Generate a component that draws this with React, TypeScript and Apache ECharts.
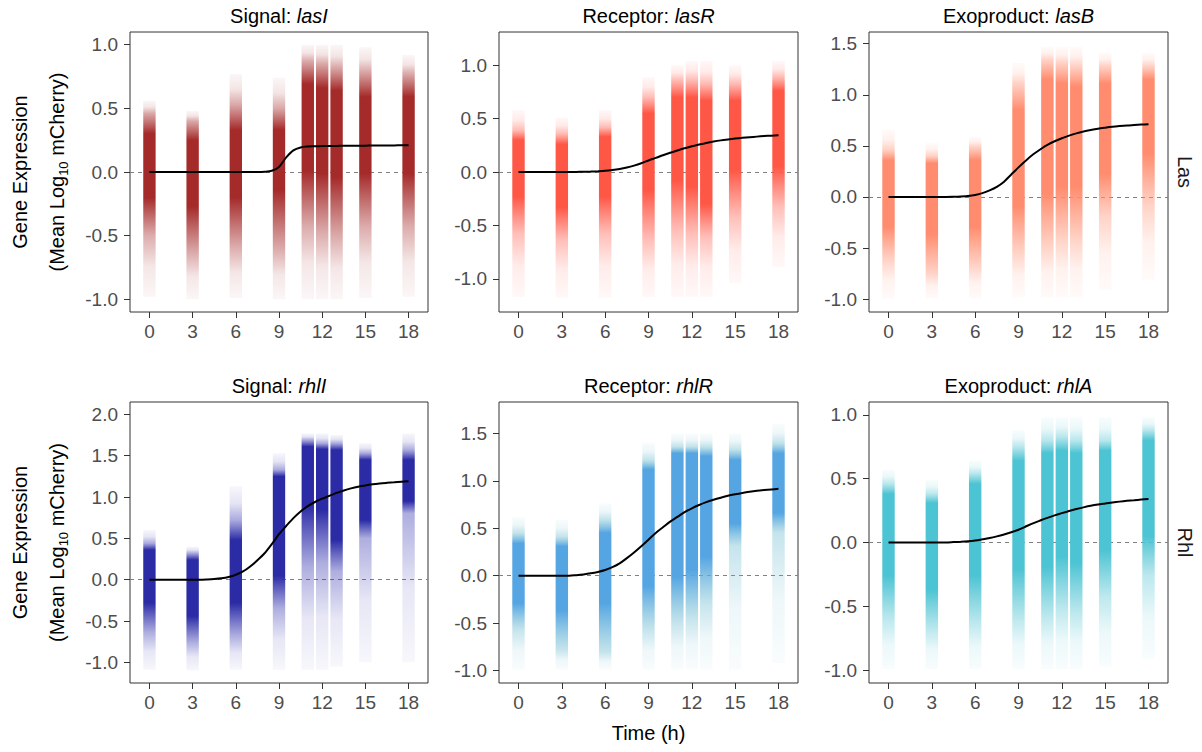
import React, { useEffect, useRef } from "react";
import * as echarts from "echarts";

// ---------- data ----------
const TIMES = [0, 3, 6, 9, 11, 12, 13, 15, 18];
const X_TICKS = [0, 3, 6, 9, 12, 15, 18];
// fitted curves sampled every half hour from 0 to 18 h
const CURVE_T = [
  0, 0.5, 1, 1.5, 2, 2.5, 3, 3.5, 4, 4.5, 5, 5.5, 6, 6.5, 7, 7.5, 8, 8.5, 9, 9.5, 10, 10.5, 11, 11.5, 12, 12.5, 13,
  13.5, 14, 14.5, 15, 15.5, 16, 16.5, 17, 17.5, 18,
];

// per time point: [min, lowerTail, coreLow, coreHigh, upperTail, max]
const LASI_STRIPS = [
  [-0.98, -0.5, -0.2, 0.3, 0.46, 0.56],
  [-1.0, -0.64, -0.27, 0.25, 0.4, 0.48],
  [-0.99, -0.59, -0.2, 0.33, 0.53, 0.77],
  [-1.0, -0.61, -0.14, 0.33, 0.5, 0.74],
  [-1.0, -0.43, 0.01, 0.69, 0.87, 1.0],
  [-1.0, -0.48, -0.01, 0.66, 0.85, 1.0],
  [-1.0, -0.51, -0.04, 0.64, 0.82, 1.0],
  [-0.99, -0.43, -0.01, 0.59, 0.79, 0.98],
  [-0.98, -0.43, -0.01, 0.59, 0.77, 0.92],
];
const LASR_STRIPS = [
  [-1.17, -0.58, -0.23, 0.3, 0.39, 0.58],
  [-1.18, -0.64, -0.33, 0.26, 0.36, 0.51],
  [-1.18, -0.58, -0.23, 0.33, 0.42, 0.58],
  [-1.17, -0.64, -0.17, 0.55, 0.7, 0.89],
  [-1.17, -0.55, -0.08, 0.7, 0.86, 1.0],
  [-1.17, -0.58, -0.14, 0.7, 0.86, 1.04],
  [-1.17, -0.61, -0.3, 0.67, 0.83, 1.04],
  [-1.04, -0.42, 0.02, 0.67, 0.83, 1.0],
  [-0.89, -0.33, 0.05, 0.76, 0.89, 1.04],
];
const LASB_STRIPS = [
  [-0.99, -0.62, -0.29, 0.36, 0.46, 0.66],
  [-0.99, -0.75, -0.36, 0.33, 0.4, 0.53],
  [-0.99, -0.68, -0.29, 0.36, 0.49, 0.59],
  [-0.98, -0.55, -0.09, 0.85, 1.11, 1.31],
  [-0.98, -0.49, 0.04, 1.15, 1.34, 1.47],
  [-0.98, -0.42, 0.1, 1.11, 1.31, 1.47],
  [-0.98, -0.42, 0.1, 1.08, 1.28, 1.47],
  [-0.91, -0.19, 0.23, 1.11, 1.28, 1.41],
  [-0.81, -0.09, 0.43, 1.15, 1.28, 1.41],
];
const RHLI_STRIPS = [
  [-1.09, -0.64, -0.28, 0.36, 0.44, 0.6],
  [-1.1, -0.76, -0.44, 0.24, 0.32, 0.4],
  [-1.09, -0.68, -0.28, 0.48, 0.72, 1.13],
  [-1.09, -0.35, 0.05, 1.25, 1.33, 1.53],
  [-1.09, 0.15, 0.9, 1.61, 1.69, 1.77],
  [-1.09, 0.2, 0.85, 1.58, 1.65, 1.77],
  [-1.05, 0.1, 0.48, 1.57, 1.65, 1.75],
  [-1.0, 0.5, 0.72, 1.45, 1.53, 1.65],
  [-1.0, 0.8, 0.95, 1.45, 1.57, 1.77],
];
const RHLR_STRIPS = [
  [-0.99, -0.57, -0.29, 0.34, 0.45, 0.62],
  [-0.99, -0.78, -0.36, 0.31, 0.41, 0.59],
  [-0.99, -0.81, -0.29, 0.45, 0.59, 0.76],
  [-0.99, -0.57, -0.11, 1.12, 1.22, 1.4],
  [-0.99, -0.5, -0.01, 1.29, 1.36, 1.5],
  [-0.99, -0.45, 0.06, 1.29, 1.36, 1.5],
  [-0.99, -0.29, 0.2, 1.26, 1.36, 1.5],
  [-0.99, 0.31, 0.55, 1.22, 1.33, 1.5],
  [-0.92, 0.45, 0.66, 1.29, 1.4, 1.6],
];
const RHLA_STRIPS = [
  [-0.99, -0.6, -0.26, 0.38, 0.46, 0.57],
  [-0.99, -0.68, -0.37, 0.31, 0.38, 0.49],
  [-0.99, -0.63, -0.26, 0.46, 0.54, 0.64],
  [-0.99, -0.6, -0.21, 0.64, 0.75, 0.88],
  [-0.99, -0.58, -0.19, 0.7, 0.8, 0.98],
  [-0.99, -0.52, -0.11, 0.72, 0.83, 0.98],
  [-0.99, -0.55, -0.16, 0.7, 0.8, 0.98],
  [-0.97, -0.42, -0.06, 0.72, 0.8, 0.98],
  [-0.91, -0.26, 0.05, 0.8, 0.88, 0.98],
];

// fitted curves at CURVE_T (37 values each)
const LASI_CURVE = [
  0, 0, 0, 0, 0, 0, 0, 0, 0, 0, 0, 0, 0, 0, 0, 0, 0.002, 0.01, 0.04, 0.115, 0.17, 0.193, 0.2, 0.202, 0.204, 0.205,
  0.205, 0.206, 0.206, 0.207, 0.207, 0.208, 0.208, 0.209, 0.209, 0.21, 0.21,
];
const LASR_CURVE = [
  0, 0, 0, 0, 0, 0, 0, 0, 0.001, 0.002, 0.004, 0.007, 0.011, 0.018, 0.028, 0.042, 0.06, 0.082, 0.108, 0.132, 0.157,
  0.18, 0.201, 0.222, 0.241, 0.257, 0.272, 0.285, 0.296, 0.305, 0.313, 0.32, 0.326, 0.331, 0.336, 0.34, 0.343,
];
const LASB_CURVE = [
  0, 0, 0, 0, 0, 0, 0, 0, 0, 0.002, 0.005, 0.01, 0.02, 0.038, 0.065, 0.1, 0.15, 0.22, 0.29, 0.355, 0.415, 0.465, 0.51,
  0.545, 0.575, 0.6, 0.622, 0.64, 0.655, 0.668, 0.678, 0.687, 0.694, 0.7, 0.704, 0.708, 0.712,
];
const RHLI_CURVE = [
  0, 0, 0, 0, 0, 0, 0, 0, 0.003, 0.008, 0.017, 0.033, 0.06, 0.1, 0.16, 0.235, 0.32, 0.43, 0.55, 0.65, 0.745, 0.825,
  0.89, 0.94, 0.98, 1.015, 1.05, 1.08, 1.105, 1.125, 1.14, 1.155, 1.165, 1.172, 1.178, 1.184, 1.19,
];
const RHLR_CURVE = [
  0, 0, 0, 0, 0, 0, 0, 0, 0.006, 0.014, 0.025, 0.04, 0.06, 0.09, 0.13, 0.185, 0.245, 0.31, 0.38, 0.45, 0.51, 0.57,
  0.62, 0.67, 0.71, 0.745, 0.775, 0.8, 0.822, 0.842, 0.858, 0.872, 0.884, 0.894, 0.902, 0.909, 0.915,
];
const RHLA_CURVE = [
  0, 0, 0, 0, 0, 0, 0, 0, 0, 0.003, 0.006, 0.01, 0.016, 0.025, 0.035, 0.048, 0.063, 0.08, 0.1, 0.125, 0.15, 0.172,
  0.193, 0.212, 0.23, 0.247, 0.262, 0.275, 0.287, 0.297, 0.305, 0.313, 0.32, 0.326, 0.331, 0.336, 0.34,
];

const Y_TICKS_LAS_I = [-1, -0.5, 0, 0.5, 1];
const Y_TICKS_LAS_R = [-1, -0.5, 0, 0.5, 1];
const Y_TICKS_LAS_B = [-1, -0.5, 0, 0.5, 1, 1.5];
const Y_TICKS_RHL_I = [-1, -0.5, 0, 0.5, 1, 1.5, 2];
const Y_TICKS_RHL_R = [-1, -0.5, 0, 0.5, 1, 1.5];
const Y_TICKS_RHL_A = [-1, -0.5, 0, 0.5, 1];

const ROLES = ["Signal: ", "Receptor: ", "Exoproduct: ", "Signal: ", "Receptor: ", "Exoproduct: "];
const GENES = ["lasI", "lasR", "lasB", "rhlI", "rhlR", "rhlA"];
const ROW_LABELS = ["Las", "Rhl"];

// ---------- layout / style ----------
const FONT = "'Liberation Sans', Arial, sans-serif";
const COL_LEFT = [130, 499, 869];
const COL_W = [298, 299, 299];
const ROW_TOP = [32, 402];
const ROW_H = [280, 281];
const Y_RANGE = [
  [-1.1, 1.1],
  [-1.31, 1.31],
  [-1.125, 1.614],
  [-1.25, 2.15],
  [-1.13, 1.83],
  [-1.1, 1.1],
];
const CORE_COL = ["#A52A2A", "#FF5746", "#FF8C6E", "#2B2BA6", "#55A5E3", "#4DC4D3"];
const TAIL_COL = ["#A83030", "#FF6050", "#FF9275", "#3535B0", "#6FBCD0", "#58C6D4"];

const STRIPS = [LASI_STRIPS, LASR_STRIPS, LASB_STRIPS, RHLI_STRIPS, RHLR_STRIPS, RHLA_STRIPS];
const CURVES = [LASI_CURVE, LASR_CURVE, LASB_CURVE, RHLI_CURVE, RHLR_CURVE, RHLA_CURVE];
const YTICKS = [Y_TICKS_LAS_I, Y_TICKS_LAS_R, Y_TICKS_LAS_B, Y_TICKS_RHL_I, Y_TICKS_RHL_R, Y_TICKS_RHL_A];

function rgba(hex: string, a: number) {
  const h = hex.replace("#", "");
  const r = parseInt(h.slice(0, 2), 16);
  const g = parseInt(h.slice(2, 4), 16);
  const b = parseInt(h.slice(4, 6), 16);
  return `rgba(${r},${g},${b},${a})`;
}

export default function App() {
  const ref = useRef<HTMLDivElement>(null);
  useEffect(() => {
    if (!ref.current) return;
    const chart = echarts.init(ref.current, null, { renderer: "svg", width: 1202, height: 752 });

    const grids: any[] = [];
    const xAxes: any[] = [];
    const yAxes: any[] = [];
    const series: any[] = [];
    const graphics: any[] = [];

    for (let p = 0; p < 6; p++) {
      const row = Math.floor(p / 3);
      const col = p % 3;
      grids.push({
        left: COL_LEFT[col],
        top: ROW_TOP[row],
        width: COL_W[col],
        height: ROW_H[row],
        show: true,
        borderColor: "#333333",
        borderWidth: 1,
        backgroundColor: "transparent",
        containLabel: false,
        outerBoundsMode: "none",
      });
      xAxes.push({
        type: "value",
        gridIndex: p,
        min: -1.35,
        max: 19.35,
        axisLine: { show: false, onZero: false },
        splitLine: { show: false },
        axisTick: { show: true, length: 6, customValues: X_TICKS, lineStyle: { color: "#333333", width: 1 } },
        axisLabel: {
          show: true,
          customValues: X_TICKS,
          margin: 10,
          fontSize: 19,
          fontFamily: FONT,
          color: "#4D4D4D",
          formatter: (v: number) => String(v),
        },
      });
      yAxes.push({
        type: "value",
        gridIndex: p,
        min: Y_RANGE[p][0],
        max: Y_RANGE[p][1],
        axisLine: { show: false, onZero: false },
        splitLine: { show: false },
        axisTick: { show: true, length: 6, customValues: YTICKS[p], lineStyle: { color: "#333333", width: 1 } },
        axisLabel: {
          show: true,
          customValues: YTICKS[p],
          margin: 12,
          fontSize: 19,
          fontFamily: FONT,
          color: "#4D4D4D",
          formatter: (v: number) => v.toFixed(1),
        },
      });

      const core = CORE_COL[p];
      const tail = TAIL_COL[p];
      series.push({
        type: "custom",
        xAxisIndex: p,
        yAxisIndex: p,
        z: 2,
        clip: true,
        silent: true,
        encode: { x: 0, y: [1, 6] },
        data: TIMES.map((t, i) => [t, ...STRIPS[p][i]]),
        renderItem: (params: any, api: any) => {
          const t = api.value(0);
          const vMin = api.value(1);
          const vLo = api.value(2);
          const vCLo = api.value(3);
          const vCHi = api.value(4);
          const vHi = api.value(5);
          const vMax = api.value(6);
          const xc = api.coord([t, 0])[0];
          const hw = api.size([0.43, 0])[0];
          const yTop = api.coord([t, vMax])[1];
          const yBot = api.coord([t, vMin])[1];
          const off = (v: number) => Math.min(1, Math.max(0, (vMax - v) / (vMax - vMin)));
          return {
            type: "rect",
            shape: { x: xc - hw, y: yTop, width: hw * 2, height: yBot - yTop },
            style: {
              fill: new echarts.graphic.LinearGradient(0, 0, 0, 1, [
                { offset: 0, color: rgba(tail, 0.04) },
                { offset: off((vMax + vHi) / 2), color: rgba(tail, 0.13) },
                { offset: off(vHi), color: rgba(tail, 0.42) },
                { offset: off(vCHi), color: rgba(core, 1) },
                { offset: off(vCLo), color: rgba(core, 1) },
                { offset: off(vLo), color: rgba(tail, 0.4) },
                { offset: off((vLo + vMin) / 2), color: rgba(tail, 0.12) },
                { offset: 1, color: rgba(tail, 0.04) },
              ]),
            },
          };
        },
      });
      series.push({
        type: "line",
        xAxisIndex: p,
        yAxisIndex: p,
        z: 3,
        silent: true,
        smooth: 0.3,
        showSymbol: false,
        symbol: "none",
        lineStyle: { color: "#000000", width: 2 },
        data: CURVE_T.map((t, i) => [t, CURVES[p][i]]),
        markLine: {
          silent: true,
          z: 1,
          symbol: ["none", "none"],
          label: { show: false },
          lineStyle: { type: [4, 4], color: "#808080", width: 1 },
          data: [{ yAxis: 0 }],
        },
      });

      graphics.push({
        type: "text",
        x: COL_LEFT[col] + COL_W[col] / 2,
        y: ROW_TOP[row] - 16,
        style: {
          text: `{n|${ROLES[p]}}{i|${GENES[p]}}`,
          align: "center",
          verticalAlign: "middle",
          rich: {
            n: { fontSize: 20, fontFamily: FONT, fill: "#000000" },
            i: { fontSize: 20, fontFamily: FONT, fill: "#000000", fontStyle: "italic" },
          },
        },
      });
    }

    for (let r = 0; r < 2; r++) {
      const cy = ROW_TOP[r] + ROW_H[r] / 2;
      graphics.push({
        type: "text",
        x: 19.5,
        y: cy,
        rotation: Math.PI / 2,
        style: {
          text: "Gene Expression",
          align: "center",
          verticalAlign: "middle",
          fontSize: 20,
          fontFamily: FONT,
          fill: "#000000",
        },
      });
      graphics.push({
        type: "text",
        x: 57,
        y: cy,
        rotation: Math.PI / 2,
        style: {
          text: "{m|(Mean Log}{s|10}{m| mCherry)}",
          align: "center",
          verticalAlign: "middle",
          rich: {
            m: { fontSize: 20, fontFamily: FONT, fill: "#000000", lineHeight: 26, verticalAlign: "middle" },
            s: { fontSize: 13, fontFamily: FONT, fill: "#000000", lineHeight: 12, verticalAlign: "bottom" },
          },
        },
      });
      graphics.push({
        type: "text",
        x: 1185,
        y: cy,
        rotation: -Math.PI / 2,
        style: {
          text: ROW_LABELS[r],
          align: "center",
          verticalAlign: "middle",
          fontSize: 20,
          fontFamily: FONT,
          fill: "#1A1A1A",
        },
      });
    }
    graphics.push({
      type: "text",
      x: COL_LEFT[1] + COL_W[1] / 2,
      y: 733,
      style: {
        text: "Time (h)",
        align: "center",
        verticalAlign: "middle",
        fontSize: 20,
        fontFamily: FONT,
        fill: "#000000",
      },
    });

    chart.setOption({
      animation: false,
      backgroundColor: "#ffffff",
      grid: grids,
      xAxis: xAxes,
      yAxis: yAxes,
      series,
      graphic: graphics,
    });
    return () => chart.dispose();
  }, []);
  return (
    <div
      ref={ref}
      style={{ position: "absolute", left: 0, top: 0, width: 1202, height: 752, background: "#ffffff" }}
    />
  );
}
